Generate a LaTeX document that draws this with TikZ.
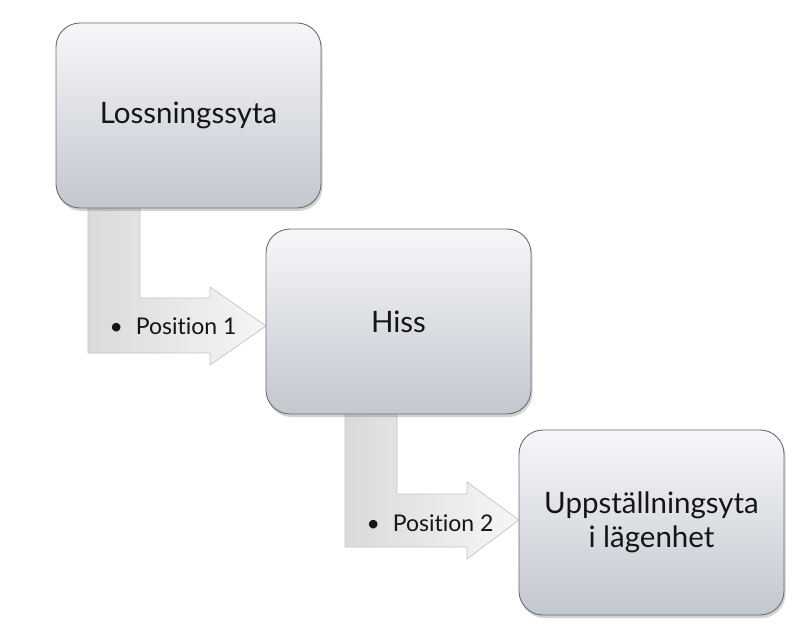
\documentclass[tikz,border=0pt]{standalone}
\usepackage{fontspec}
\setsansfont{Lato}[Ligatures=NoCommon]
\renewcommand{\familydefault}{\sfdefault}
\usetikzlibrary{calc,shadows}
\definecolor{boxtop}{HTML}{F6F7F9}
\definecolor{boxbot}{HTML}{C3C7CE}
\definecolor{boxline}{HTML}{6A6D74}
\definecolor{arrleft}{HTML}{DADADA}
\definecolor{arrright}{HTML}{F6F6F6}
\definecolor{arrline}{HTML}{C4C4C4}
\definecolor{txt}{HTML}{151515}
\tikzset{
  stepbox/.style={draw=boxline, line width=0.9pt, rounded corners=24pt,
    minimum width=265pt, minimum height=185pt, shading=axis,
    top color=boxtop, bottom color=boxbot, text=txt, align=center,
    font=\fontsize{29.5}{34}\selectfont,
    drop shadow={opacity=0.35, shadow xshift=1.5pt, shadow yshift=-3pt}},
  bentarrow/.style={draw=arrline, line width=0.7pt, shading=axis,
    left color=arrleft, right color=arrright},
  arrlabel/.style={text=txt, font=\fontsize{23}{26}\selectfont, anchor=west}
}
\begin{document}
\begin{tikzpicture}[x=1pt,y=-1pt]
\useasboundingbox (0,0) rectangle (811,644);
\fill[white] (0,0) rectangle (811,644);
\path (188.5,115.5) coordinate (c1) (398.5,321.5) coordinate (c2) (651.5,522.5) coordinate (c3);
% bent arrows (behind the boxes)
\draw[bentarrow] ($(c1)+(-100.5,80)$) -- ($(c1)+(-100.5,237.5)$) -- ($(c1)+(21.5,237.5)$)
  -- ($(c1)+(21.5,249.5)$) -- ($(c2)+(-132.5,4.5)$) -- ($(c1)+(21.5,171.5)$)
  -- ($(c1)+(21.5,182.5)$) -- ($(c1)+(-48.5,182.5)$) -- ($(c1)+(-48.5,80)$) -- cycle;
\draw[bentarrow] ($(c2)+(-53.5,80)$) -- ($(c2)+(-53.5,225.5)$) -- ($(c2)+(68.5,225.5)$)
  -- ($(c2)+(68.5,237.5)$) -- ($(c3)+(-132.5,-2.5)$) -- ($(c2)+(68.5,160.5)$)
  -- ($(c2)+(68.5,172.5)$) -- ($(c2)+(-1.5,172.5)$) -- ($(c2)+(-1.5,80)$) -- cycle;
\node[stepbox] (b1) at (c1) {Lossningssyta};
\node[stepbox] (b2) at (c2) {Hiss};
\node[stepbox] (b3) at (c3) {Uppställningsyta\\i lägenhet};
\node[arrlabel] (p1) at (106,326) {\textbullet\hspace{13pt}Position 1};
\node[arrlabel] (p2) at (363,523) {\textbullet\hspace{13pt}Position 2};
\end{tikzpicture}
\end{document}
